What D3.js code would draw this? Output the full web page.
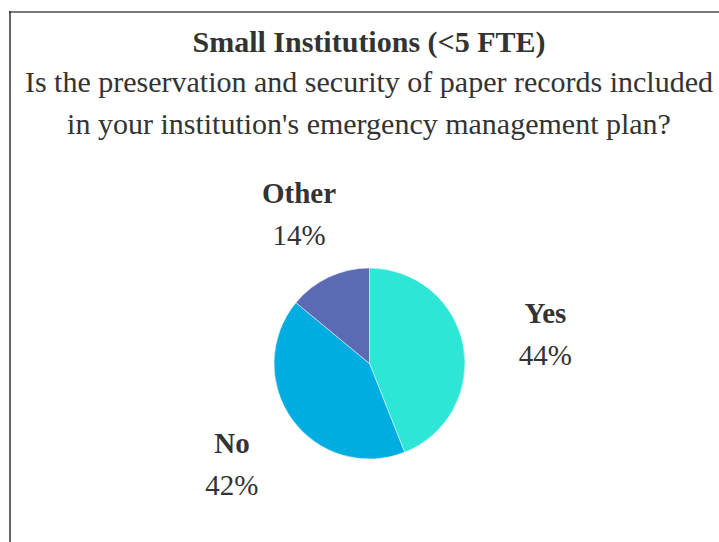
<!DOCTYPE html>
<html>
<head>
<meta charset="utf-8">
<script src="https://cdn.jsdelivr.net/npm/d3@7"></script>
<style>
  html, body { margin: 0; padding: 0; background: #fff; }
  svg { display: block; font-family: "Liberation Serif", "Times New Roman", serif; }
</style>
</head>
<body>
<svg id="chart" width="719" height="542"></svg>
<script>
const titleLines = ["Small Institutions (<5 FTE)"];
const subtitleLines = [
  "Is the preservation and security of paper records included",
  "in your institution's emergency management plan?"
];
const categories = ["Yes", "No", "Other"];
const shares = [44, 42, 14];
const colors = ["#2ee6d6", "#00ade0", "#5a6bb3"];

(function () {
  const W = 719, H = 542;
  const CX = 369.5, CY = 363.5, R = 95.5;
  const svg = d3.select("#chart");

  // frame: grey top rule, dark left rule
  svg.append("line").attr("x1", 9).attr("x2", W).attr("y1", 12).attr("y2", 12)
    .attr("stroke", "#7a7a7a").attr("stroke-width", 2);
  svg.append("line").attr("x1", 10).attr("x2", 10).attr("y1", 11).attr("y2", H)
    .attr("stroke", "#333").attr("stroke-width", 1.5);

  svg.selectAll("text.title").data(titleLines).join("text")
    .attr("class", "title")
    .attr("x", 369).attr("y", (d, i) => 52 + i * 42)
    .attr("text-anchor", "middle").attr("font-size", 30).attr("font-weight", "bold")
    .attr("fill", "#333").text((d) => d);

  svg.selectAll("text.sub").data(subtitleLines).join("text")
    .attr("class", "sub")
    .attr("x", 369).attr("y", (d, i) => 92 + i * 42)
    .attr("text-anchor", "middle").attr("font-size", 30)
    .attr("fill", "#333").text((d) => d);

  const data = categories.map((c, i) => ({ name: c, value: shares[i], color: colors[i] }));
  const pie = d3.pie().sort(null).value((d) => d.value);
  const arcs = pie(data);
  const arc = d3.arc().innerRadius(0).outerRadius(R);

  const g = svg.append("g").attr("transform", `translate(${CX},${CY})`);
  g.selectAll("path").data(arcs).join("path")
    .attr("d", arc)
    .attr("fill", (d) => d.data.color)
    .attr("stroke", "#fff").attr("stroke-width", 0.5);

  // label anchor: slightly elliptical ring around the pie
  const labelPos = (d) => {
    const a = (d.startAngle + d.endAngle) / 2;
    return [4 + 175 * Math.sin(a), -9 - 167 * Math.cos(a)];
  };
  const lab = g.selectAll("g.lab").data(arcs).join("g")
    .attr("class", "lab")
    .attr("transform", (d) => `translate(${labelPos(d)})`);
  lab.append("text")
    .attr("y", 0).attr("text-anchor", "middle").attr("font-size", 29).attr("font-weight", "bold")
    .attr("fill", "#333").text((d) => d.data.name);
  lab.append("text")
    .attr("y", 42).attr("text-anchor", "middle").attr("font-size", 29)
    .attr("fill", "#333").text((d) => d.data.value + "%");
})();
</script>
</body>
</html>
